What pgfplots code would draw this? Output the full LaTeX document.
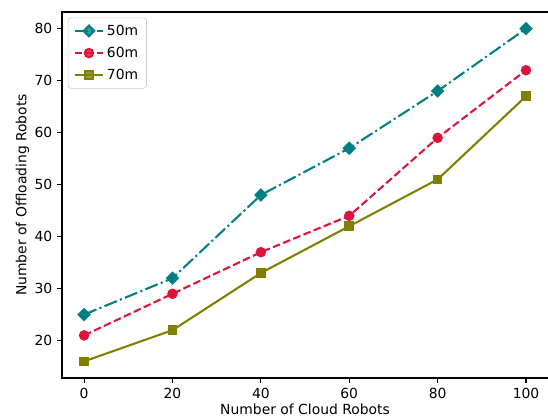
\documentclass[border=0pt]{standalone}
\usepackage{fontspec}
\setmainfont{DejaVu Sans}
\usepackage{pgfplots}
\pgfplotsset{compat=1.18}
\definecolor{cteal}{RGB}{0,128,128}
\definecolor{ccrimson}{RGB}{220,20,60}
\definecolor{colive}{RGB}{128,128,0}
\begin{document}
\begin{tikzpicture}[x=0.72pt,y=0.72pt]
\begin{axis}[
  at={(0,0)}, anchor=south west,
  scale only axis, width=350pt, height=263.5pt,
  xmin=-5, xmax=105, ymin=12.8, ymax=83.2,
  xtick={0,20,40,60,80,100}, ytick={20,30,40,50,60,70,80},
  tick align=outside, tick pos=left,
  major tick length=3.5pt,
  tick style={black, line width=0.8pt},
  axis line style={line width=0.8pt},
  /pgf/number format/assume math mode=true,
  ticklabel style={font=\fontsize{10}{12}\selectfont},
  label style={font=\fontsize{10}{12}\selectfont},
  xlabel={Number of Cloud Robots},
  ylabel={Number of Offloading Robots},
  xlabel style={yshift=3pt},
  ylabel style={yshift=-3pt},
  legend cell align=left,
  legend image code/.code={\draw[mark repeat=2,mark phase=2] plot coordinates {(0cm,0cm) (0.36cm,0cm) (0.72cm,0cm)};},
  legend style={font=\fontsize{10}{12}\selectfont, draw=black!20, rounded corners=2pt, fill=white, fill opacity=0.8, text opacity=1, at={(0.012,0.985)}, anchor=north west, inner xsep=4pt, inner ysep=3pt, row sep=3pt},
]
\addplot[cteal, line width=1.5pt, dash pattern=on 9.6pt off 2.4pt on 1.5pt off 2.4pt, mark=square*, mark size=2.7pt, mark options={solid, rotate=45}]
  coordinates {(0,25) (20,32) (40,48) (60,57) (80,68) (100,80)};
\addlegendentry{50m}
\addplot[ccrimson, line width=1.5pt, dash pattern=on 5.5pt off 2.4pt, mark=*, mark size=3pt, mark options={solid}]
  coordinates {(0,21) (20,29) (40,37) (60,44) (80,59) (100,72)};
\addlegendentry{60m}
\addplot[colive, line width=1.5pt, mark=square*, mark size=2.7pt, mark options={solid}]
  coordinates {(0,16) (20,22) (40,33) (60,42) (80,51) (100,67)};
\addlegendentry{70m}
\end{axis}
\pgfresetboundingbox
\path (-62,-40) rectangle (486,378);
\end{tikzpicture}
\end{document}
